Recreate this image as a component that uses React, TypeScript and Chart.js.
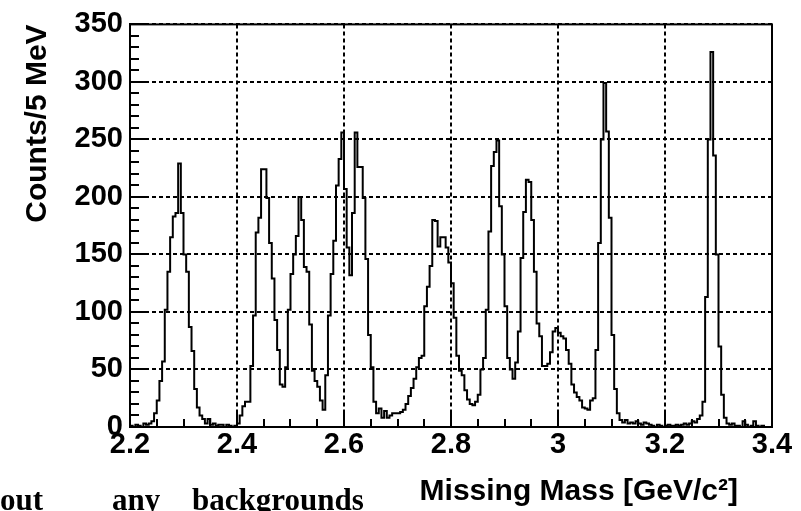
import React, { useEffect, useRef } from "react";
import { Chart, registerables } from "chart.js";

Chart.register(...registerables);

// Histogram binning (5 MeV bins from 2.2 to 3.4 GeV/c^2)
const BIN_START = 2.2;
const BIN_WIDTH = 0.005;

// Counts per 5 MeV bin (240 bins)
const counts = [
  1, 0, 2, 1, 0, 3, 2, 3, 5, 12,
  23, 40, 57, 102, 135, 165, 183, 186, 229, 186,
  150, 135, 87, 66, 33, 17, 10, 7, 3, 7,
  2, 3, 1, 2, 2, 0, 2, 1, 0, 1,
  3, 10, 18, 22, 22, 53, 97, 169, 182, 224,
  224, 199, 160, 129, 93, 67, 37, 35, 52, 102,
  133, 150, 166, 200, 180, 139, 135, 89, 49, 40,
  35, 23, 15, 45, 97, 133, 162, 210, 233, 256,
  207, 156, 132, 186, 256, 226, 226, 199, 146, 80,
  52, 22, 12, 16, 8, 14, 8, 10, 12, 12,
  12, 13, 15, 20, 27, 34, 42, 52, 60, 62,
  105, 122, 140, 180, 179, 157, 165, 165, 156, 143,
  125, 95, 62, 49, 45, 32, 24, 20, 19, 22,
  28, 50, 60, 102, 170, 227, 239, 249, 192, 150,
  105, 60, 50, 42, 56, 83, 147, 187, 215, 213,
  180, 135, 90, 79, 53, 53, 55, 65, 83, 86,
  82, 79, 77, 67, 55, 37, 30, 26, 23, 17,
  16, 15, 23, 25, 67, 160, 250, 299, 257, 182,
  80, 33, 12, 6, 4, 6, 3, 4, 3, 5,
  3, 2, 4, 3, 2, 1, 0, 2, 1, 0,
  1, 2, 1, 1, 2, 1, 2, 3, 2, 3,
  5, 4, 7, 10, 22, 113, 250, 326, 236, 150,
  70, 28, 8, 3, 2, 3, 1, 1, 0, 5,
  2, 0, 1, 5, 1, 0, 1, 0, 0, 0,
];

const xTicks = [2.2, 2.4, 2.6, 2.8, 3.0, 3.2, 3.4];
const yTicks = [0, 50, 100, 150, 200, 250, 300, 350];
const xMinorStep = 0.05;
const yMinorStep = 10;

const xTitle = "Missing Mass [GeV/c²]";
const yTitle = "Counts/5 MeV";
const strayWords = ["out", "any", "backgrounds"];

const SANS = '"Liberation Sans", Arial, Helvetica, sans-serif';
const SERIF = '"Liberation Serif", "Times New Roman", serif';

const fmt = (v: number) => String(Number(v.toFixed(2)));

const framePlugin = {
  id: "rootFrame",
  afterDraw(chart: any) {
    const { ctx, chartArea, scales } = chart;
    const { left, right, top, bottom } = chartArea;
    const x = scales.x;
    const y = scales.y;
    ctx.save();
    ctx.strokeStyle = "#000";
    ctx.lineWidth = 2;
    ctx.setLineDash([]);
    ctx.beginPath();
    // y ticks (inside, left)
    const yMax = yTicks[yTicks.length - 1];
    for (let k = 0; k * yMinorStep <= yMax + 1e-9; k++) {
      const v = k * yMinorStep;
      const py = Math.round(y.getPixelForValue(v));
      const len = v % 50 === 0 ? 16 : 9;
      ctx.moveTo(left, py);
      ctx.lineTo(left + len, py);
    }
    // x ticks (inside, bottom)
    const xMin = xTicks[0];
    const xMax = xTicks[xTicks.length - 1];
    const nx = Math.round((xMax - xMin) / xMinorStep);
    for (let k = 0; k <= nx; k++) {
      const v = xMin + k * xMinorStep;
      const px = Math.round(x.getPixelForValue(v));
      const len = k % 4 === 0 ? 14 : 8;
      ctx.moveTo(px, bottom);
      ctx.lineTo(px, bottom - len);
    }
    ctx.stroke();
    ctx.strokeRect(left, top, right - left, bottom - top);

    // x-axis title
    ctx.fillStyle = "#000";
    ctx.font = `bold 30px ${SANS}`;
    ctx.textAlign = "right";
    ctx.textBaseline = "alphabetic";
    ctx.fillText(xTitle, 738, 500);

    // stray text from the page below the figure
    ctx.font = `bold 31px ${SERIF}`;
    ctx.textAlign = "left";
    ctx.fillText(strayWords[0], 0, 510);
    ctx.fillText(strayWords[1], 112, 510);
    ctx.fillText(strayWords[2], 192, 510);
    ctx.restore();
  },
};

export default function App() {
  const ref = useRef<HTMLCanvasElement | null>(null);

  useEffect(() => {
    if (!ref.current) return;
    const points = counts.map((c, i) => ({ x: BIN_START + i * BIN_WIDTH, y: c }));
    points.push({ x: BIN_START + counts.length * BIN_WIDTH, y: counts[counts.length - 1] });

    const chart = new Chart(ref.current, {
      type: "line",
      data: {
        datasets: [
          {
            data: points,
            stepped: "before",
            borderColor: "#000",
            borderWidth: 2,
            pointRadius: 0,
            fill: false,
          },
        ],
      },
      options: {
        animation: false,
        responsive: false,
        maintainAspectRatio: false,
        events: [],
        layout: { padding: { top: 18, right: 29, left: 0, bottom: 0 } },
        plugins: {
          legend: { display: false },
          tooltip: { enabled: false },
          title: { display: false },
        },
        scales: {
          x: {
            type: "linear",
            min: xTicks[0],
            max: xTicks[xTicks.length - 1],
            afterBuildTicks: (s: any) => {
              s.ticks = xTicks.map((v) => ({ value: v }));
            },
            afterFit: (s: any) => {
              s.height = 84;
            },
            grid: { color: "#000", lineWidth: 2, drawTicks: false },
            border: { display: true, color: "#000", width: 2, dash: [4, 3] },
            ticks: {
              color: "#000",
              padding: 1,
              autoSkip: false,
              maxRotation: 0,
              font: { family: SANS, size: 29, weight: "bold" },
              callback: (v: any) => fmt(Number(v)),
            },
          },
          y: {
            type: "linear",
            min: yTicks[0],
            max: yTicks[yTicks.length - 1],
            afterBuildTicks: (s: any) => {
              s.ticks = yTicks.map((v) => ({ value: v }));
            },
            afterFit: (s: any) => {
              s.width = 130;
            },
            grid: { color: "#000", lineWidth: 2, drawTicks: false },
            border: { display: true, color: "#000", width: 2, dash: [4, 3] },
            ticks: {
              color: "#000",
              padding: 7,
              font: { family: SANS, size: 29, weight: "bold" },
              callback: (v: any) => fmt(Number(v)),
            },
            title: {
              display: true,
              text: yTitle,
              align: "end",
              color: "#000",
              font: { family: SANS, size: 30, weight: "bold" },
              padding: { top: 20, bottom: 0 },
            },
          },
        },
      },
      plugins: [framePlugin],
    });
    return () => chart.destroy();
  }, []);

  return (
    <div
      style={{
        position: "fixed",
        left: 0,
        top: 0,
        width: 801,
        height: 511,
        background: "#fff",
        overflow: "hidden",
      }}
    >
      <canvas ref={ref} width={801} height={511} style={{ display: "block" }} />
    </div>
  );
}
